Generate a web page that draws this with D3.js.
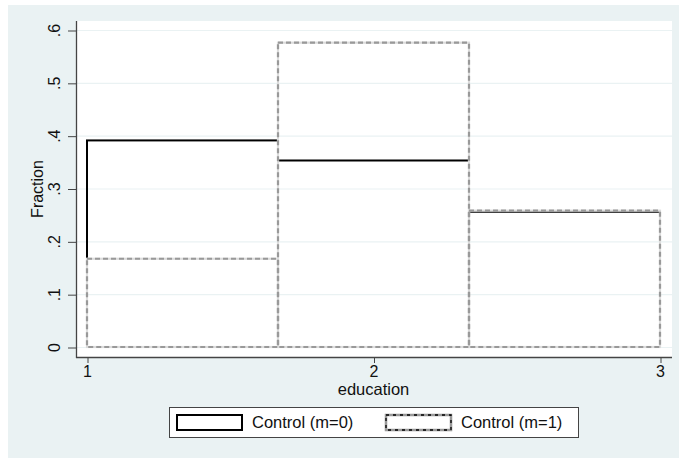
<!DOCTYPE html>
<html><head><meta charset="utf-8">
<script src="https://cdn.jsdelivr.net/npm/d3@7"></script>
<style>body{margin:0;background:#fff}svg{display:block;font-family:"Liberation Sans",Arial,sans-serif}</style>
</head><body><svg id="c" width="679" height="458"></svg>
<script>
const binEdges = [1, 5/3, 7/3, 3];
const control0 = [0.391, 0.353, 0.256];
const control1 = [0.167, 0.576, 0.258];
const yTicks = [0, 0.1, 0.2, 0.3, 0.4, 0.5, 0.6];
const yTickLabels = ["0", ".1", ".2", ".3", ".4", ".5", ".6"];
const xTicks = [1, 2, 3];
const seriesNames = ["Control (m=0)", "Control (m=1)"];

const svg = d3.select("#c");
const bg = "#eaf2f3";
svg.append("rect").attr("x", 8).attr("y", 5).attr("width", 671).attr("height", 453).attr("fill", bg);
const P = {l: 76, r: 672, t: 21, b: 357};
svg.append("rect").attr("x", P.l).attr("y", P.t).attr("width", P.r - P.l).attr("height", P.b - P.t).attr("fill", "#fff");

const x = d3.scaleLinear().domain([1, 3]).range([87, 660]);
const y = d3.scaleLinear().domain([0, 0.6]).range([347, 30]);

// gridlines
svg.append("g").selectAll("line").data(yTicks).join("line")
  .attr("x1", P.l + 1).attr("x2", P.r).attr("y1", d => y(d) + 0.5).attr("y2", d => y(d) + 0.5)
  .attr("stroke", bg).attr("stroke-width", 1.2);

function bars(vals) {
  return svg.append("g").selectAll("rect").data(vals).join("rect")
    .attr("x", (d, i) => x(binEdges[i]))
    .attr("width", (d, i) => x(binEdges[i + 1]) - x(binEdges[i]))
    .attr("y", d => y(d))
    .attr("height", d => y(0) - y(d))
    .attr("fill", "none");
}
bars(control0).attr("stroke", "#000").attr("stroke-width", 2);
bars(control1).attr("stroke", "#dcdcdc").attr("stroke-width", 2.2);
bars(control1).attr("stroke", "#999").attr("stroke-width", 2.2).attr("stroke-dasharray", "5,3");

// axes
const axCol = "#444";
const yAxis = svg.append("g").attr("transform", `translate(${P.l},0)`)
  .call(d3.axisLeft(y).tickValues(yTicks).tickFormat((d, i) => yTickLabels[i]).tickSize(8).tickPadding(0));
yAxis.select(".domain").remove();
yAxis.selectAll("line").attr("stroke", axCol).attr("transform", "translate(0,0.5)");
yAxis.selectAll("text").attr("transform", "rotate(-90)").attr("x", 0).attr("y", -16)
  .attr("text-anchor", "middle").attr("dy", null)
  .style("font-size", "16px").attr("fill", "#111")
  .attr("font-family", null);
svg.append("line").attr("x1", P.l + 0.5).attr("x2", P.l + 0.5).attr("y1", P.t).attr("y2", P.b + 1)
  .attr("stroke", axCol).attr("stroke-width", 1.3);

const xAxis = svg.append("g").attr("transform", `translate(0,${P.b})`)
  .call(d3.axisBottom(x).tickValues(xTicks).tickFormat(d3.format("d")).tickSize(6).tickPadding(3));
xAxis.select(".domain").remove();
xAxis.selectAll("line").attr("stroke", axCol).attr("transform", "translate(0.5,0)");
xAxis.selectAll("text").style("font-size", "16px").attr("fill", "#111").attr("font-family", null);
svg.append("line").attr("x1", P.l).attr("x2", P.r).attr("y1", P.b + 0.5).attr("y2", P.b + 0.5)
  .attr("stroke", axCol).attr("stroke-width", 1.3);

svg.append("text").attr("x", (87 + 660) / 2).attr("y", 395).attr("text-anchor", "middle")
  .style("font-size", "16.5px").attr("fill", "#111").text("education");
svg.append("text").attr("transform", `translate(43,${(P.t + P.b) / 2}) rotate(-90)`).attr("text-anchor", "middle")
  .style("font-size", "16px").attr("fill", "#111").text("Fraction");

// legend
const lg = svg.append("g");
lg.append("rect").attr("x", 169.5).attr("y", 407.5).attr("width", 409).attr("height", 30)
  .attr("fill", "#fff").attr("stroke", "#444").attr("stroke-width", 1);
const keys = [{kx: 177, tx: 252}, {kx: 386, tx: 461}];
lg.append("rect").attr("x", keys[0].kx).attr("y", 415).attr("width", 65).attr("height", 15)
  .attr("fill", "#fff").attr("stroke", "#000").attr("stroke-width", 2);
lg.append("rect").attr("x", keys[1].kx).attr("y", 415).attr("width", 65).attr("height", 15)
  .attr("fill", "#fff").attr("stroke", "#999").attr("stroke-width", 2.5);
lg.append("rect").attr("x", keys[1].kx).attr("y", 415).attr("width", 65).attr("height", 15)
  .attr("fill", "none").attr("stroke", "#000").attr("stroke-width", 1.3).attr("stroke-dasharray", "3,4");
lg.selectAll("text.lt").data(seriesNames).join("text").attr("class", "lt")
  .attr("x", (d, i) => keys[i].tx).attr("y", 428).style("font-size", "16.5px").attr("fill", "#111").text(d => d);
</script></body></html>
